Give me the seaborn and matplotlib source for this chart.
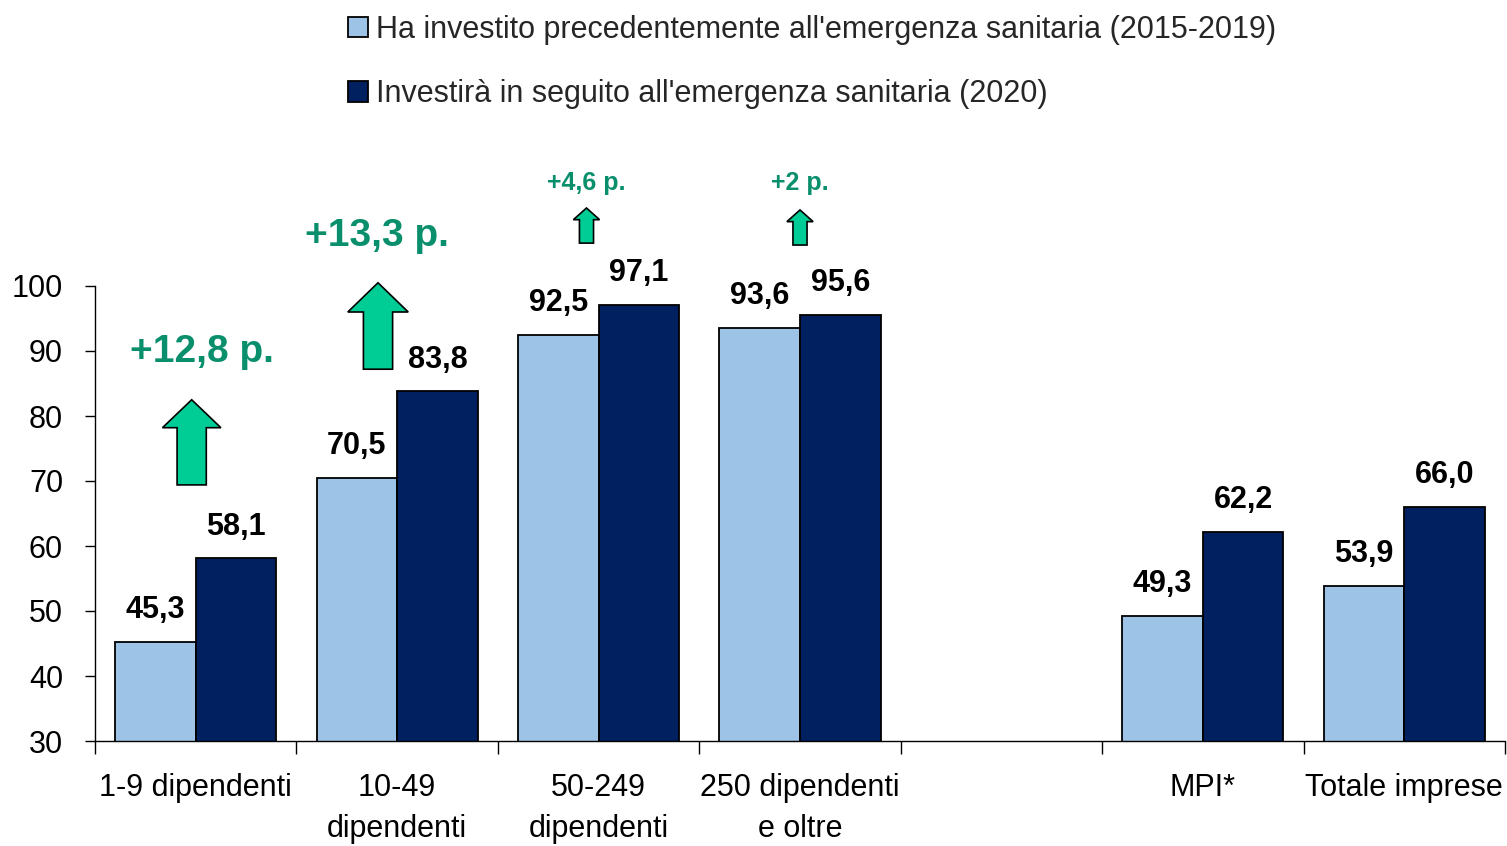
import matplotlib.pyplot as plt
import seaborn as sns
import pandas as pd

# Dati
categorie = ["1-9 dipendenti", "10-49\ndipendenti", "50-249\ndipendenti",
             "250 dipendenti\ne oltre", " ", "MPI*", "Totale imprese"]
prima = [45.3, 70.5, 92.5, 93.6, None, 49.3, 53.9]
dopo = [58.1, 83.8, 97.1, 95.6, None, 62.2, 66.0]
serie = ["Ha investito precedentemente all'emergenza sanitaria (2015-2019)",
         "Investirà in seguito all'emergenza sanitaria (2020)"]
incrementi = ["+12,8 p.", "+13,3 p.", "+4,6 p.", "+2 p."]

rows = []
for c, a, b in zip(categorie, prima, dopo):
    rows.append({"cat": c, "serie": serie[0], "val": a})
    rows.append({"cat": c, "serie": serie[1], "val": b})
df = pd.DataFrame(rows).dropna()

sns.set_style("white")
plt.rcParams['font.family'] = ['Liberation Sans', 'DejaVu Sans']

fig = plt.figure(figsize=(15.07, 8.46), dpi=100)
ax = fig.add_axes([95 / 1507, 105 / 846, 1410 / 1507, 455 / 846])

sns.barplot(data=df, x="cat", y="val", hue="serie", order=categorie, hue_order=serie,
            palette=["#9DC3E6", "#002060"], edgecolor="black", linewidth=1.3,
            width=0.8, gap=0, saturation=1, ax=ax)

for cont in ax.containers:
    labs = [f"{v:.1f}".replace(".", ",") for v in cont.datavalues]
    ax.bar_label(cont, labels=labs, padding=12, fontsize=22, fontweight="bold", color="black")

ax.set_ylim(30, 100)
ax.set_yticks(range(30, 101, 10))
ax.set_xlim(-0.5, len(categorie) - 0.5)
ax.set_xticks([i - 0.5 for i in range(len(categorie) + 1)])
ax.set_xticklabels([])
ax.set_xticks(range(len(categorie)), minor=True)
ax.set_xticklabels(categorie, minor=True, linespacing=1.5)
ax.tick_params(axis="x", which="major", direction="out", length=9, width=1, color="black", bottom=True)
ax.tick_params(axis="x", which="minor", length=0, pad=23, labelsize=22, labelcolor="black")
ax.tick_params(axis="y", direction="out", length=7, width=1, color="black", left=True,
               labelsize=22, pad=16, labelcolor="black")
ax.set_xlabel("")
ax.set_ylabel("")
sns.despine(ax=ax, top=True, right=True)
for s in ["left", "bottom"]:
    ax.spines[s].set_color("black")
    ax.spines[s].set_linewidth(1)

# Frecce e incrementi
verde = "#0A8F6C"
frecce = [  # x, base, lunghezza, larghezza, testa, lung. testa
    (-0.02, 69.4, 13.1, 0.145, 0.29, 4.3),
    (0.905, 87.2, 13.3, 0.145, 0.30, 4.5),
    (1.94, 106.6, 5.4, 0.07, 0.13, 1.8),
    (3.0, 106.3, 5.4, 0.07, 0.13, 1.8),
]
testi = [(0.03, 89.8, 28), (0.9, 107.7, 28), (1.94, 115.8, 18), (3.0, 115.8, 18)]
for (x, y, dy, w, hw, hl), (tx, ty, fs), lab in zip(frecce, testi, incrementi):
    ax.arrow(x, y, 0, dy, width=w, head_width=hw, head_length=hl, length_includes_head=True,
             fc="#00CC96", ec="black", lw=1.2, clip_on=False)
    ax.text(tx, ty, lab, color=verde, fontsize=fs, fontweight="bold",
            ha="center", va="center", clip_on=False)

handles, labels = ax.get_legend_handles_labels()
ax.legend(handles, labels, loc="upper left", bbox_to_anchor=(348 / 1507, 1 - 15 / 846),
          bbox_transform=fig.transFigure, frameon=False, fontsize=22,
          handlelength=0.65, handleheight=0.65, handletextpad=0.25, labelspacing=1.12,
          borderpad=0, borderaxespad=0)

plt.savefig("out.png", dpi=100)
